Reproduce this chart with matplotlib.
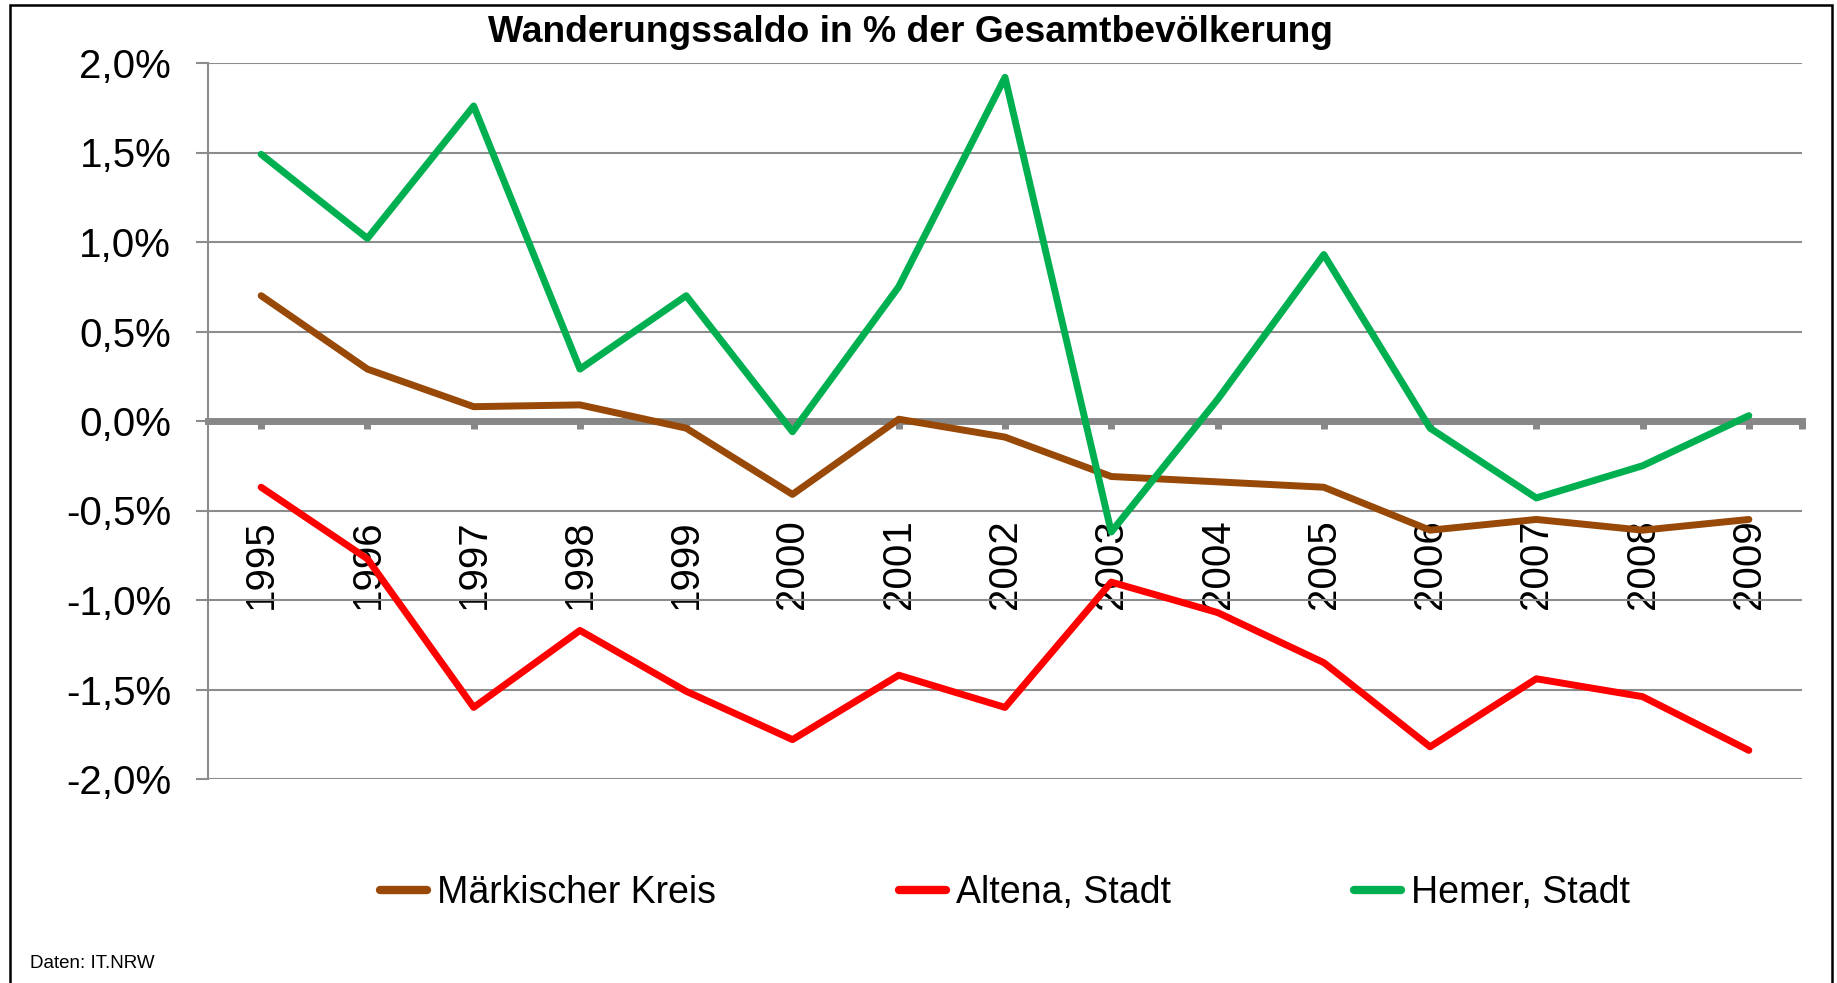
import matplotlib
matplotlib.use("Agg")
import matplotlib.pyplot as plt
from matplotlib.patches import Rectangle

plt.rcParams['font.family'] = ['Liberation Sans', 'DejaVu Sans']

# Jahre und Wanderungssaldo in Prozent
years = ['1995', '1996', '1997', '1998', '1999', '2000', '2001', '2002',
         '2003', '2004', '2005', '2006', '2007', '2008', '2009']
maerkischer_kreis = [0.70, 0.29, 0.08, 0.09, -0.04, -0.41, 0.01, -0.09,
                     -0.31, -0.34, -0.37, -0.61, -0.55, -0.61, -0.55]
altena = [-0.37, -0.77, -1.60, -1.17, -1.51, -1.78, -1.42, -1.60,
          -0.90, -1.07, -1.35, -1.82, -1.44, -1.54, -1.84]
hemer = [1.49, 1.02, 1.76, 0.29, 0.70, -0.06, 0.75, 1.92,
         -0.62, 0.12, 0.93, -0.04, -0.43, -0.25, 0.03]

series_names = ['Märkischer Kreis', 'Altena, Stadt', 'Hemer, Stadt']
series_colors = ['#984807', '#ff0000', '#00b050']

y_ticks = [-2.0, -1.5, -1.0, -0.5, 0.0, 0.5, 1.0, 1.5, 2.0]

grid_gray = '#8c8c8c'

fig = plt.figure(figsize=(18.37, 9.83), dpi=100)
ax = fig.add_axes([208 / 1837, 1 - 779 / 983, (1802 - 208) / 1837, (779 - 63) / 983])

# Linien
x = list(range(len(years)))
for values, name, color in zip([maerkischer_kreis, altena, hemer], series_names, series_colors):
    ax.plot(x, values, color=color, lw=5, label=name,
            solid_capstyle='round', solid_joinstyle='round', zorder=3)

ax.set_xlim(-0.5, len(years) - 0.5)
ax.set_ylim(-2.0, 2.0)

# y-Achse mit Prozentangaben
ax.set_yticks(y_ticks)
ax.set_yticklabels([('%.1f%%' % v).replace('.', ',') for v in y_ticks])
ax.yaxis.grid(True, color=grid_gray, lw=1.5)
ax.set_axisbelow(True)
ax.tick_params(axis='y', direction='out', length=8.5, width=1.5, color=grid_gray,
               labelsize=29, pad=18)

# x-Achse auf der Nulllinie
ax.spines['bottom'].set_position(('data', 0))
ax.spines['bottom'].set_color('#878787')
ax.spines['bottom'].set_linewidth(5)
ax.spines['bottom'].set_zorder(2)
ax.spines['left'].set_color(grid_gray)
ax.spines['left'].set_linewidth(1.5)
ax.spines['top'].set_visible(False)
ax.spines['right'].set_visible(False)

ax.set_xticks(x + [len(years) - 0.5])
ax.set_xticklabels(years + [''], rotation=90, va='top', ha='center')
ax.tick_params(axis='x', direction='out', length=5.5, width=5, color='#878787',
               labelsize=29, pad=65)

# Titel, Legende, Quelle
fig.text(910 / 1837, 1 - 32 / 983, 'Wanderungssaldo in % der Gesamtbevölkerung',
         ha='center', va='center', fontsize=26.8, fontweight='bold')

leg = fig.legend(loc='center', bbox_to_anchor=(1005 / 1837, 1 - 893 / 983), ncol=3,
                 frameon=False, fontsize=27, handlelength=1.25, handletextpad=0.25,
                 columnspacing=4.9)
for line in leg.get_lines():
    line.set_linewidth(6)
    line.set_solid_capstyle('round')

fig.text(30 / 1837, 1 - 963 / 983, 'Daten: IT.NRW', ha='left', va='center', fontsize=13.5)

# Rahmen um die Grafik
fig.add_artist(Rectangle((9.5 / 1837, -0.02), (1831.5 - 9.5) / 1837, 1.02 - 5 / 983,
                         transform=fig.transFigure, fill=False, ec='black', lw=1.8))

fig.savefig('out.png', dpi=100)
